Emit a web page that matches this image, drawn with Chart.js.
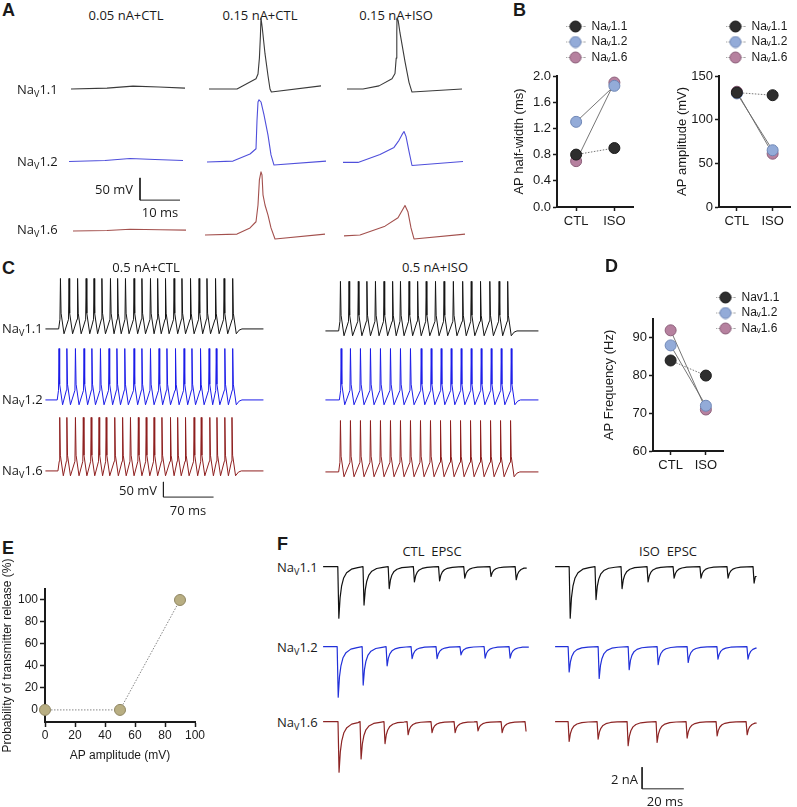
<!DOCTYPE html>
<html>
<head>
<meta charset="utf-8">
<script src="https://cdn.jsdelivr.net/npm/chart.js@4.4.1/dist/chart.umd.min.js"></script>
<style>
  html, body { margin: 0; padding: 0; background: #fff; }
  #fig { position: relative; width: 797px; height: 807px; overflow: hidden; font-family: "Open Sans", sans-serif; color: #1a1a1a; }
  #fig canvas { position: absolute; }
  .t { position: absolute; white-space: pre; font-size: 13px; line-height: 1; }
  .sub { font-size: 9px; position: relative; top: 3px; }
</style>
</head>
<body>
<div id="fig"></div>
<script>
// ---------- A: single action potentials, [ms, mV] ----------
const a11_005 = [[0,-70],[9,-68],[15.5,-63.5],[22,-65.5],[28.5,-68]];
const a11_015 = [[0,-70],[7,-70],[11.75,-47],[12.25,-36],[12.6,0],[12.85,50],[13,91],[13.3,70],[14,10],[14.75,-40],[15.25,-70],[15.6,-77],[28,-63]];
const a11_iso = [[0,-70],[4,-70],[8,-63],[11.25,-47],[12,-35],[12.3,0],[12.45,60],[12.5,91],[12.8,85],[13.25,57],[14.5,-8],[15.5,-55],[16.25,-77],[28.75,-70]];
const a12_005 = [[0,-69],[9,-66.5],[15.25,-62],[21.5,-64.5],[28.5,-66.5]];
const a12_015 = [[0,-70],[6.5,-68],[10.75,-52],[12.25,-40],[12.5,24],[12.75,66],[13,71],[13.5,66],[14.25,37],[15.25,-9],[16,-54],[16.75,-77],[29.75,-68]];
const a12_iso = [[0,-71],[3.75,-71],[9.25,-53],[12.75,-37],[14,-21],[14.75,-8],[15.25,-1],[15.75,-12],[16.5,-46],[17.25,-78],[30,-69]];
const a16_005 = [[0,-61],[8.5,-60],[14.25,-57],[21.75,-58],[28.25,-59]];
const a16_015 = [[0,-70],[8,-68],[11.25,-54],[12.75,-40],[13.25,-2],[13.6,55],[14,73],[14.25,66],[14.5,21],[15,-2],[15.75,-25],[16.5,-54],[17.5,-79],[30,-68]];
const a16_iso = [[0,-72],[4,-70],[10.25,-50],[13.5,-31],[14.5,-15],[15.25,-3],[16,-18],[16.75,-54],[17.5,-79],[30.25,-68]];
const aTitles = ['0.05 nA+CTL', '0.15 nA+CTL', '0.15 nA+ISO'];

// ---------- B: AP half-width (ms) and amplitude (mV) ----------
const groups = ['CTL', 'ISO'];
const hw11 = [0.8, 0.9], hw12 = [1.3, 1.85], hw16 = [0.7, 1.9];
const amp11 = [131, 128], amp12 = [130, 65], amp16 = [132, 61];
const hwTicks = [0, 0.4, 0.8, 1.2, 1.6, 2.0];
const ampTicks = [0, 50, 100, 150];

// ---------- C: spike trains, spike times (ms) ----------
const c11Ctl = [21,33,45,57,68,79,91,101,112,124,135,147,157,168,180,191,203,215,226,238,250,262];
const c12Ctl = [19,30,42,54,65,77,89,100,111,124,135,147,159,170,182,194,205,217,229,239,251,262];
const c16Ctl = [20,30,42,53,64,75,85,97,108,119,130,141,152,163,175,185,196,208,218,230,240,251,261];
const c11Iso = [21,33,46,58,70,82,94,105,117,129,141,154,166,179,192,204,217,230,243,255];
const c12Iso = [22,35,49,63,77,91,105,119,134,148,162,176,190,204,218,232,246,260];
const c16Iso = [21,35,49,63,77,91,105,119,133,147,161,175,189,203,217,231,245,259];
const cPeakCtl = [97, 100, 107];
const cPeakIso = [94, 100, 100];
const spikeShape = [[-0.7,-38],[0,null],[0.9,-18],[5,-86]];   // null -> peak
const spikeTail = [[9,-74],[13,-70]];

// ---------- D: AP frequency (Hz) ----------
const fq11 = [84, 80], fq12 = [88, 72], fq16 = [92, 71];
const fqTicks = [60, 70, 80, 90];

// ---------- E: release probability ----------
const eAmp = [0, 50, 90];
const eProb = [0, 0, 100];
const eXTicks = [0, 20, 40, 60, 80, 100];
const eYTicks = [0, 20, 40, 60, 80, 100];

// ---------- F: EPSC trains, event times (ms) and amplitudes (nA) ----------
const f11CtlT = [7,19,31,43,55,67,79.5,91.5],        f11CtlA = [4.7,3.5,2.0,1.4,1.3,1.05,0.9,1.2];
const f11IsoT = [6.7,19,31.4,43.8,56.2,69,81.9,94.3], f11IsoA = [4.7,3.0,2.0,1.4,1.05,1.05,1.05,1.5];
const f12CtlT = [6.7,18.6,30,41.9,53.8,65.2,76.7,88.6], f12CtlA = [4.6,3.5,1.75,1.1,1.1,0.75,1.05,1.05];
const f12IsoT = [6.2,20.5,34.8,48.6,62.9,77.1,91.4],  f12IsoA = [2.3,2.9,2.1,1.65,1.45,1.15,1.15];
const f16CtlT = [7.1,17.6,29,40,51.4,62.4,73.3,84.8,96.2], f16CtlA = [4.6,3.4,2.0,1.2,1.0,1.0,0.85,1.0,0.9];
const f16IsoT = [6.2,20,34.3,48.1,62.4,76.7,91],      f16IsoA = [1.8,1.6,2.2,1.9,1.5,1.3,1.2];
const epscShape = [[0,0],[0.5,-1],[1.1,-0.6],[1.8,-0.38],[2.8,-0.22],[4.2,-0.12],[6.5,-0.05],[9.5,-0.02]];

const chanNames = ['Naᵥ1.1', 'Naᵥ1.2', 'Naᵥ1.6'];
const chanNamesD = ['Nav1.1', 'Naᵥ1.2', 'Naᵥ1.6'];
const dotFill = ['#2e2e2e', '#93abd8', '#b6819f'];
const dotEdge = ['#1c1c1c', '#6f87b6', '#8c5f7a'];

const SANS = '"Liberation Sans", Arial, sans-serif';
const INK = '#1a1a1a';
Chart.defaults.font.family = SANS;
Chart.defaults.color = INK;
Chart.defaults.animation = false;
Chart.defaults.responsive = false;
Chart.defaults.events = [];
Chart.defaults.plugins.legend.display = false;
Chart.defaults.plugins.tooltip.enabled = false;

const fig = document.getElementById('fig');

function addCanvas(l, t, w, h) {
  const c = document.createElement('canvas');
  c.width = Math.round(w);
  c.height = Math.round(h);
  c.style.left = l + 'px';
  c.style.top = t + 'px';
  fig.appendChild(c);
  return c;
}

function txt(html, x, y, align, extra) {
  const d = document.createElement('div');
  d.className = 't';
  d.innerHTML = html;
  d.style.left = x + 'px';
  d.style.top = y + 'px';
  const tx = align === 'c' ? '-50%' : align === 'r' ? '-100%' : '0';
  d.style.transform = 'translate(' + tx + ',-50%)';
  if (extra) Object.assign(d.style, extra);
  fig.appendChild(d);
}
const na = n => 'Na<span class="sub">V</span>' + n;
const letter = (s, x, y) => txt(s, x, y, 'l', { font: 'bold 18px ' + SANS });

// trace chart: x0px = pixel of x=0, basePx = pixel of y=yRef
function traceChart(x0px, basePx, sx, sy, xr, yr, yRef, lines) {
  const c = addCanvas(x0px + xr[0] * sx, basePx - (yr[1] - yRef) * sy,
                      (xr[1] - xr[0]) * sx, (yr[1] - yr[0]) * sy);
  new Chart(c, {
    type: 'line',
    data: { datasets: lines.map(l => ({
      data: l.pts.map(([x, y]) => ({ x, y })),
      borderColor: l.color, borderWidth: l.width || 1.1,
      pointRadius: 0, tension: 0, borderJoinStyle: 'round', clip: false
    })) },
    options: {
      layout: { padding: 0 },
      scales: {
        x: { type: 'linear', display: false, min: xr[0], max: xr[1] },
        y: { type: 'linear', display: false, min: yr[0], max: yr[1] }
      }
    }
  });
}

function spikeTrain(times, peak, end) {
  const pts = [[0, -70], [times[0] - 2.5, -70]];
  times.forEach(t => spikeShape.forEach(([dt, v]) => pts.push([t + dt, v === null ? peak : v])));
  const last = times[times.length - 1];
  spikeTail.forEach(([dt, v]) => pts.push([last + dt, v]));
  pts.push([end, -70]);
  return pts;
}

function epscTrain(times, amps, end) {
  const pts = [[0, 0]];
  times.forEach((t, i) => epscShape.forEach(([dt, f]) => pts.push([t + dt, f * amps[i]])));
  const out = pts.filter(p => p[0] <= end);
  out.push([end, out[out.length - 1][1]]);
  return out;
}

function markerImg(fill, edge) {
  const c = document.createElement('canvas');
  c.width = 20; c.height = 13;
  const g = c.getContext('2d');
  g.strokeStyle = '#8a8a8a'; g.lineWidth = 1; g.setLineDash([1.5, 1.5]);
  g.beginPath(); g.moveTo(0, 6.5); g.lineTo(20, 6.5); g.stroke();
  g.setLineDash([]);
  g.beginPath(); g.arc(10, 6.5, 5.5, 0, Math.PI * 2);
  g.fillStyle = fill; g.fill();
  g.strokeStyle = edge; g.lineWidth = 1; g.stroke();
  return c;
}

// legend-only chart (top legend takes at most half the canvas height)
function legendChart(left, top, names) {
  const c = addCanvas(left, top, 78, 130);
  new Chart(c, {
    type: 'line',
    data: { datasets: names.map(n => ({ label: n, data: [] })) },
    options: {
      scales: { x: { display: false }, y: { display: false } },
      plugins: { legend: {
        display: true, position: 'top', align: 'start',
        labels: {
          usePointStyle: true, pointStyleWidth: 20, padding: 3.5,
          font: { size: 12, family: SANS }, color: INK,
          generateLabels: ch => ch.data.datasets.map((d, i) => ({
            text: d.label, pointStyle: markerImg(dotFill[i], dotEdge[i]),
            fillStyle: dotFill[i], strokeStyle: dotEdge[i], lineWidth: 0,
            hidden: false, datasetIndex: i, fontColor: INK
          }))
        }
      } }
    }
  });
}

function yAxis(min, max, ticks, fmt, title, width, size, titleSize, tickLen) {
  return {
    type: 'linear', min, max,
    afterBuildTicks: ax => { ax.ticks = ticks.map(v => ({ value: v })); },
    afterFit: ax => { ax.width = width; },
    ticks: { callback: v => fmt(v), font: { size }, color: INK, padding: 2 },
    grid: { drawOnChartArea: false, tickLength: tickLen, tickWidth: 1.5, tickColor: INK },
    border: { color: INK, width: 2 },
    title: { display: true, text: title, font: { size: titleSize }, color: INK, padding: { top: 0, bottom: 0 } }
  };
}

function catAxis(height) {
  return {
    type: 'category', labels: groups, offset: true,
    afterFit: ax => { ax.height = height; },
    ticks: { font: { size: 13 }, color: INK, padding: 3 },
    grid: { drawOnChartArea: false, offset: false, tickLength: 4, tickWidth: 1.5, tickColor: INK },
    border: { color: INK, width: 2 }
  };
}

function pairSets(vals) {
  return vals.map((v, i) => ({
    data: v, order: i + 1,
    borderColor: '#666', borderWidth: 0.9, borderDash: i === 0 ? [1.5, 1.5] : [],
    pointRadius: 5.5, pointBackgroundColor: dotFill[i], pointBorderColor: dotEdge[i],
    pointBorderWidth: 1, tension: 0, clip: false
  }));
}

function pairChart(left, top, width, height, padRight, vals, y) {
  const c = addCanvas(left, top, width, height);
  new Chart(c, {
    type: 'line',
    data: { labels: groups, datasets: pairSets(vals) },
    options: {
      layout: { padding: { top: 10, right: padRight, left: 0, bottom: 0 } },
      scales: { x: catAxis(28), y }
    }
  });
}

// ================= Panel A =================
letter('A', 2, 10);
aTitles.forEach((s, i) => txt(s, [126, 260, 396][i], 15, 'c'));
const aBase = [89, 162, 235];
const aStarts = [[71, 209, 347], [69, 207, 343], [73, 205, 344]];
const aColors = ['#3a3a3a', '#4f4fdb', '#a3504d'];
const aTraces = [[a11_005, a11_015, a11_iso], [a12_005, a12_015, a12_iso], [a16_005, a16_015, a16_iso]];
aTraces.forEach((row, r) => row.forEach((pts, k) =>
  traceChart(aStarts[r][k], aBase[r], 4, 0.44, [-1, 31], [-95, 100], -70, [{ pts, color: aColors[r], width: 1.1 }])));
[89, 161, 229].forEach((y, r) => txt(na(['1.1', '1.2', '1.6'][r]), 17, y, 'l'));
traceChart(140, 200, 4, 0.44, [-1, 11], [-2, 52], 0, [{ pts: [[0, 50], [0, 0], [10, 0]], color: '#222', width: 1 }]);
txt('50 mV', 133, 189, 'r');
txt('10 ms', 160, 212, 'c');

// ================= Panel B =================
letter('B', 513, 10);
pairChart(512, 66, 128, 169, 5, [hw11, hw12, hw16],
  yAxis(0, 2, hwTicks, v => v.toFixed(1), 'AP half-width (ms)', 45, 13, 13, 4));
legendChart(561.5, 17, chanNames);
pairChart(675, 66, 122, 169, 0, [amp11, amp12, amp16],
  yAxis(0, 150, ampTicks, v => String(v), 'AP amplitude (mV)', 44, 13, 13, 4));
legendChart(721.5, 17, chanNames);

// ================= Panel C =================
letter('C', 2, 268);
txt('0.5 nA+CTL', 146, 267, 'c');
txt('0.5 nA+ISO', 435, 267, 'c');
const cColors = ['#151515', '#1c1ce8', '#8e1f1f'];
const cCtl = [c11Ctl, c12Ctl, c16Ctl], cIso = [c11Iso, c12Iso, c16Iso];
const cBaseL = [328, 399, 470], cBaseR = [330, 399, 471];
cCtl.forEach((t, r) => traceChart(45, cBaseL[r], 50 / 70, 0.3, [-2, 310], [-100, 115], -70,
  [{ pts: spikeTrain(t, cPeakCtl[r], 305), color: cColors[r], width: 1 }]));
cIso.forEach((t, r) => traceChart(325, cBaseR[r], 50 / 70, 0.3, [-2, 310], [-100, 115], -70,
  [{ pts: spikeTrain(t, cPeakIso[r], 298), color: cColors[r], width: 1 }]));
[328, 399, 470].forEach((y, r) => txt(na(['1.1', '1.2', '1.6'][r]), 2, y, 'l'));
traceChart(163, 497, 50 / 70, 0.3, [-2, 72], [-3, 53], 0, [{ pts: [[0, 50], [0, 0], [70, 0]], color: '#222', width: 1 }]);
txt('50 mV', 157, 490, 'r');
txt('70 ms', 188, 510, 'c');

// ================= Panel D =================
letter('D', 605, 266);
pairChart(602, 309, 128, 170, 0, [fq11, fq12, fq16],
  yAxis(60, 95, fqTicks, v => String(v), 'AP Frequency (Hz)', 51, 13, 13, 4));
legendChart(711.5, 287.5, chanNamesD);

// ================= Panel E =================
letter('E', 2, 548);
(function () {
  const c = addCanvas(0, 539, 210, 224);
  new Chart(c, {
    type: 'line',
    data: { datasets: [{
      data: eAmp.map((x, i) => ({ x, y: eProb[i] })),
      borderColor: '#777', borderWidth: 0.9, borderDash: [1.5, 1.5],
      pointRadius: 5.5, pointBackgroundColor: '#b8ae82', pointBorderColor: '#8f8662',
      pointBorderWidth: 1, tension: 0, clip: false
    }] },
    options: {
      layout: { padding: { top: 50, right: 15, left: 0, bottom: 0 } },
      scales: {
        x: {
          type: 'linear', min: 0, max: 100,
          afterBuildTicks: ax => { ax.ticks = eXTicks.map(v => ({ value: v })); },
          afterFit: ax => { ax.height = 41; },
          ticks: { font: { size: 12 }, color: INK, padding: 1 },
          grid: { drawOnChartArea: false, tickLength: 5, tickWidth: 1.5, tickColor: INK },
          border: { color: INK, width: 2 },
          title: { display: true, text: 'AP amplitude (mV)', font: { size: 12 }, color: INK, padding: { top: 0, bottom: 0 } }
        },
        y: yAxis(-11, 110, eYTicks, v => String(v), 'Probability of transmitter release (%)', 45, 12, 12, 5)
      }
    }
  });
})();

// ================= Panel F =================
letter('F', 277, 544);
txt('CTL  EPSC', 432, 551, 'c');
txt('ISO  EPSC', 668, 551, 'c');
const fColors = ['#111111', '#2130d9', '#8c2424'];
const fBase = [567, 647, 722];
const fCtl = [[f11CtlT, f11CtlA, 97], [f12CtlT, f12CtlA, 98], [f16CtlT, f16CtlA, 97]];
const fIso = [[f11IsoT, f11IsoA, 96], [f12IsoT, f12IsoA, 96], [f16IsoT, f16IsoA, 96]];
fCtl.forEach(([t, a, e], r) => traceChart(323, fBase[r], 2.1, 11, [-1, 100], [-5.5, 0.6], 0,
  [{ pts: epscTrain(t, a, e), color: fColors[r], width: 1.2 }]));
fIso.forEach(([t, a, e], r) => traceChart(555, fBase[r], 2.1, 11, [-1, 100], [-5.5, 0.6], 0,
  [{ pts: epscTrain(t, a, e), color: fColors[r], width: 1.2 }]));
[567, 647, 722].forEach((y, r) => txt(na(['1.1', '1.2', '1.6'][r]), 277, y, 'l'));
traceChart(642, 789, 2.1, 11, [-1, 22], [-0.2, 2.2], 0, [{ pts: [[0, 2], [0, 0], [20, 0]], color: '#222', width: 1 }]);
txt('2 nA', 638, 779, 'r');
txt('20 ms', 665, 801, 'c');
</script>
</body>
</html>
